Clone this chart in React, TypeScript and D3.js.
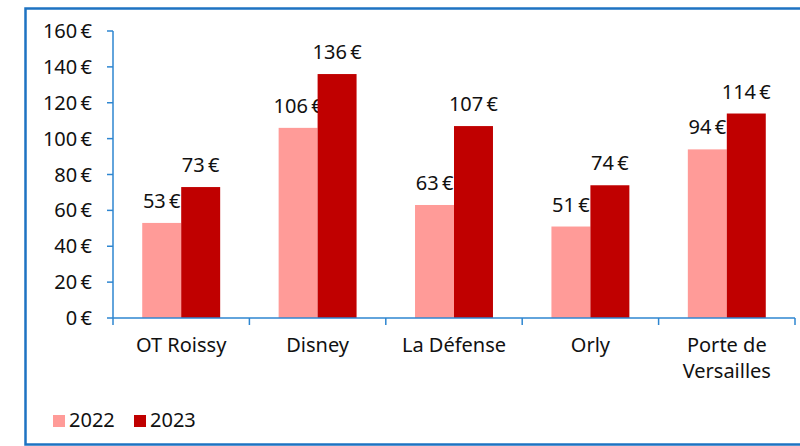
import React from "react";
import * as d3 from "d3";

const categories = ["OT Roissy", "Disney", "La Défense", "Orly", "Porte de Versailles"];
const values2022 = [53, 106, 63, 51, 94];
const values2023 = [73, 136, 107, 74, 114];
const seriesNames = ["2022", "2023"];
const yTicks = [0, 20, 40, 60, 80, 100, 120, 140, 160];

const colors = ["#FF9B98", "#C00000"];
const axisColor = "#2E86D0";
const frameColor = "#1E73C2";
const font = "'Noto Sans', 'Open Sans', sans-serif";

const W = 800;
const H = 446;
const left = 113;
const right = 795;
const top = 31;
const bottom = 318;
const fs = 20;

const eur = (v: number) => `${v}\u202F€`;

export default function App() {
  const x = d3.scaleBand<string>().domain(categories).range([left, right]).paddingInner(0).paddingOuter(0);
  const y = d3.scaleLinear().domain([0, 160]).range([bottom, top]);
  const inner = d3
    .scaleBand<string>()
    .domain(seriesNames)
    .range([0, x.bandwidth()])
    .paddingOuter(0.75)
    .paddingInner(0);

  const series = [values2022, values2023];

  return (
    <svg width={W} height={H} style={{ position: "absolute", left: 0, top: 0, fontFamily: font }}>
      <rect x={0} y={0} width={W} height={H} fill="#fff" />
      <rect x={25.5} y={8.5} width={W + 10} height={436} fill="none" stroke={frameColor} strokeWidth={2.5} />

      {/* bars */}
      {categories.map((c, i) => (
        <g key={c} transform={`translate(${x(c)},0)`}>
          {seriesNames.map((s, j) => {
            const v = series[j][i];
            const bx = inner(s)!;
            return (
              <g key={s}>
                <rect x={bx} y={y(v)} width={inner.bandwidth()} height={bottom - y(v)} fill={colors[j]} />
                <text
                  x={bx + inner.bandwidth() / 2}
                  y={y(v) - 15}
                  textAnchor="middle"
                  fontSize={fs}
                  fill="#111"
                >
                  {eur(v)}
                </text>
              </g>
            );
          })}
        </g>
      ))}

      {/* y axis */}
      <line x1={left} x2={left} y1={top} y2={bottom} stroke={axisColor} strokeWidth={1.5} />
      {yTicks.map((t) => (
        <g key={t}>
          <line x1={left - 6} x2={left} y1={y(t)} y2={y(t)} stroke={axisColor} strokeWidth={1.5} />
          <text x={92} y={y(t)} dy="0.35em" textAnchor="end" fontSize={fs} fill="#111">
            {eur(t)}
          </text>
        </g>
      ))}

      {/* x axis */}
      <line x1={left} x2={right} y1={bottom} y2={bottom} stroke={axisColor} strokeWidth={1.5} />
      {[...categories.map((c) => x(c)!), right].map((p, i) => (
        <line key={i} x1={p} x2={p} y1={bottom} y2={bottom + 7} stroke={axisColor} strokeWidth={1.5} />
      ))}
      {categories.map((c) => {
        const lines = c === "Porte de Versailles" ? ["Porte de", "Versailles"] : [c];
        return (
          <text key={c} x={x(c)! + x.bandwidth() / 2} y={352} textAnchor="middle" fontSize={fs} fill="#111">
            {lines.map((l, k) => (
              <tspan key={k} x={x(c)! + x.bandwidth() / 2} dy={k === 0 ? 0 : 26}>
                {l}
              </tspan>
            ))}
          </text>
        );
      })}

      {/* legend */}
      {seriesNames.map((s, j) => (
        <g key={s} transform={`translate(${53 + j * 81},415)`}>
          <rect x={0} y={0} width={12} height={12} fill={colors[j]} />
          <text x={16} y={12} fontSize={fs} fill="#111">
            {s}
          </text>
        </g>
      ))}
    </svg>
  );
}
